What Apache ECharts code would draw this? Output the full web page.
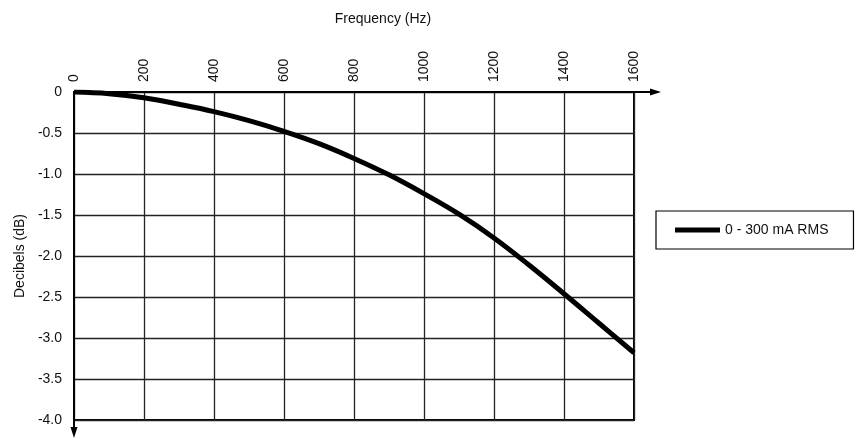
<!DOCTYPE html>
<html>
<head>
<meta charset="utf-8">
<script src="https://cdn.jsdelivr.net/npm/echarts@6/dist/echarts.min.js"></script>
<style>
  html, body { margin: 0; padding: 0; background: #fff; }
  #main { width: 864px; height: 447px; }
</style>
</head>
<body>
<div id="main"></div>
<script>
// 频率 (Hz) 与 衰减 (dB)
var freqs = [0, 100, 200, 300, 400, 500, 600, 700, 800, 900, 1000, 1100, 1200, 1300, 1400, 1500, 1600];
var decibels = [0, -0.02, -0.07, -0.15, -0.24, -0.35, -0.48, -0.63, -0.81, -1.01, -1.24, -1.49, -1.78, -2.11, -2.46, -2.82, -3.18];
var xTicks = [0, 200, 400, 600, 800, 1000, 1200, 1400, 1600];
var yTicks = [0, -0.5, -1.0, -1.5, -2.0, -2.5, -3.0, -3.5, -4.0];
var seriesName = '0 - 300 mA RMS';

var font = '"Liberation Sans", Arial, sans-serif';

var myChart = echarts.init(document.getElementById('main'));

var points = freqs.map(function (f, i) { return [f, decibels[i]]; });

var option = {
	backgroundColor : '#fff',
	animation : false,
	grid : {
		left : 74,
		right : 230,
		top : 92,
		bottom : 27,
		show : true,
		borderColor : '#000',
		borderWidth : 2
	},
	legend : {
		left : 656,
		top : 211,
		orient : 'horizontal',
		data : [ seriesName ],
		icon : 'rect',
		itemWidth : 45,
		itemHeight : 5,
		itemGap : 10,
		borderColor : '#000',
		borderWidth : 1.2,
		padding : [ 12, 25, 12, 19 ],
		textStyle : { fontFamily : font, fontSize : 14, color : '#111' }
	},
	xAxis : {
		type : 'value',
		position : 'top',
		min : xTicks[0],
		max : xTicks[xTicks.length - 1],
		interval : 200,
		name : 'Frequency (Hz)',
		nameLocation : 'middle',
		nameGap : 66,
		nameTextStyle : { fontFamily : font, fontSize : 14, color : '#111', padding : [ 0, 0, 0, 58 ] },
		axisLine : { show : false },
		axisTick : { show : false },
		axisLabel : {
			rotate : 90,
			margin : 10,
			fontFamily : font,
			fontSize : 14,
			color : '#111',
			formatter : function (v) { return String(v); }
		},
		splitLine : { show : true, lineStyle : { color : '#222', width : 1.3 } }
	},
	yAxis : {
		type : 'value',
		min : yTicks[yTicks.length - 1],
		max : yTicks[0],
		interval : 0.5,
		name : 'Decibels (dB)',
		nameLocation : 'middle',
		nameRotate : 90,
		nameGap : 47,
		nameTextStyle : { fontFamily : font, fontSize : 14, color : '#111' },
		axisLine : { show : false },
		axisTick : { show : false },
		axisLabel : {
			margin : 12,
			fontFamily : font,
			fontSize : 14,
			color : '#111',
			formatter : function (v) { return v === 0 ? '0' : v.toFixed(1); }
		},
		splitLine : { show : true, lineStyle : { color : '#222', width : 1.3 } }
	},
	series : [ {
		name : seriesName,
		type : 'line',
		data : points,
		smooth : 0.4,
		showSymbol : false,
		lineStyle : { color : '#000', width : 5 },
		itemStyle : { color : '#000' },
		z : 5
	} ]
};
myChart.setOption(option);

// 带箭头的坐标轴
var o = myChart.convertToPixel({ gridIndex : 0 }, [ xTicks[0], yTicks[0] ]);
var xEnd = myChart.convertToPixel({ gridIndex : 0 }, [ xTicks[xTicks.length - 1], yTicks[0] ])[0] + 27;
var yEnd = myChart.convertToPixel({ gridIndex : 0 }, [ xTicks[0], yTicks[yTicks.length - 1] ])[1] + 18;
myChart.setOption({
	graphic : [
		{ type : 'line', shape : { x1 : o[0], y1 : o[1], x2 : xEnd - 4, y2 : o[1] }, style : { stroke : '#000', lineWidth : 2 }, z : 10 },
		{ type : 'polygon', shape : { points : [ [ xEnd, o[1] ], [ xEnd - 11, o[1] - 3.5 ], [ xEnd - 11, o[1] + 3.5 ] ] }, style : { fill : '#000' }, z : 10 },
		{ type : 'line', shape : { x1 : o[0], y1 : o[1], x2 : o[0], y2 : yEnd - 4 }, style : { stroke : '#000', lineWidth : 2 }, z : 10 },
		{ type : 'polygon', shape : { points : [ [ o[0], yEnd ], [ o[0] - 3.5, yEnd - 11 ], [ o[0] + 3.5, yEnd - 11 ] ] }, style : { fill : '#000' }, z : 10 }
	]
});
</script>
</body>
</html>
